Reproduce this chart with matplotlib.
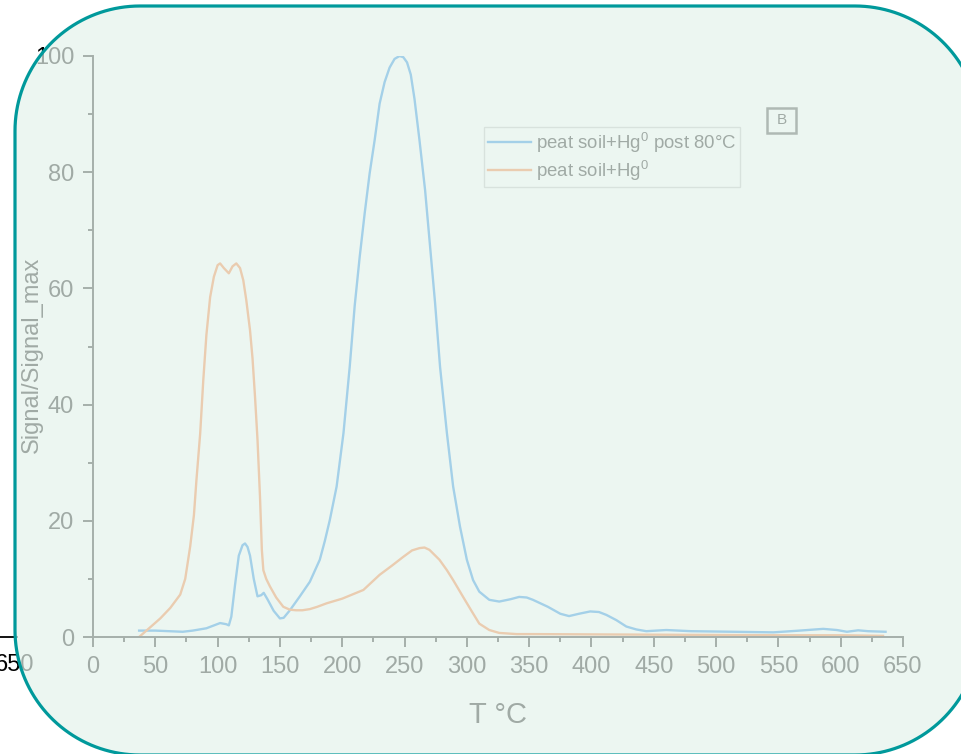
import matplotlib
matplotlib.use("Agg")
import numpy as np
import matplotlib.pyplot as plt
from matplotlib.patches import Polygon, Rectangle
from matplotlib.transforms import IdentityTransform
from matplotlib.ticker import MultipleLocator

plt.rcParams['font.family'] = ['Liberation Sans', 'DejaVu Sans']
plt.rcParams['mathtext.default'] = 'regular'

# peat soil+Hg0 post 80°C (blue)
t_post = [37, 50, 72, 80, 91, 102, 107, 109, 111, 114, 117, 120, 122, 124, 126, 129,
          132, 135, 137, 140, 145, 150, 153, 158, 166, 174, 182, 186, 190, 195.5, 201,
          206, 210, 214, 218, 222, 226, 230, 234, 238, 242, 246, 249, 252, 255, 258, 262, 266.5,
          270.5, 274.5, 278.5, 284, 289, 294.5, 300, 305, 310, 318, 326, 335, 342, 348,
          353, 365, 375, 382, 390, 399, 406, 412, 420, 428, 436, 444, 460, 480, 514,
          546, 567, 586, 597, 605, 614, 622, 636]
s_post = [1.1, 1.1, 0.9, 1.1, 1.5, 2.4, 2.2, 2.0, 3.5, 9.0, 14.0, 15.8, 16.1, 15.5, 14.0, 10.0,
          7.0, 7.2, 7.6, 6.5, 4.5, 3.2, 3.3, 4.6, 7.0, 9.5, 13.3, 16.5, 20.1, 25.9, 35.1,
          46.5, 57.0, 65.4, 72.9, 79.8, 85.5, 91.8, 95.5, 98.0, 99.5, 100.0, 99.8, 98.9, 96.8, 92.6, 85.5, 76.9,
          67.2, 57.5, 46.5, 35.1, 25.9, 19.0, 13.3, 9.8, 7.8, 6.4, 6.1, 6.5, 6.9, 6.8,
          6.4, 5.2, 4.0, 3.6, 4.0, 4.4, 4.3, 3.8, 2.9, 1.8, 1.3, 1.0, 1.2, 1.0, 0.9,
          0.8, 1.1, 1.4, 1.2, 0.9, 1.15, 1.0, 0.9]

# peat soil+Hg0 (orange)
t_raw = [37, 45, 54, 62, 70, 74, 78, 81, 83, 86, 88.5, 91, 94, 97, 100, 102, 105, 109,
         112, 115, 118, 120.6, 123, 126, 128, 130, 132, 134, 135.5, 136.7, 139, 142, 147,
         152.7, 158, 163, 168, 174, 180, 187.5, 200, 217, 230, 240, 249, 256, 262, 266,
         270, 278, 284, 289, 297, 304, 310, 318, 326, 340, 353, 400, 450, 500, 550, 600, 634]
s_raw = [0.0, 1.5, 3.2, 5.0, 7.3, 10.0, 15.6, 21.0, 27.0, 35.0, 44.2, 52.0, 58.5, 62.0, 64.0, 64.3, 63.5, 62.6,
         63.8, 64.3, 63.5, 61.4, 58.0, 52.8, 48.0, 41.4, 34.0, 24.2, 15.0, 11.5, 10.0, 8.7, 6.8,
         5.2, 4.7, 4.6, 4.6, 4.8, 5.2, 5.8, 6.6, 8.1, 10.7, 12.3, 13.8, 14.9, 15.3, 15.4,
         15.0, 13.3, 11.5, 9.8, 6.9, 4.4, 2.3, 1.2, 0.7, 0.5, 0.5, 0.45, 0.4, 0.35, 0.3, 0.3, 0.2]

labels = ['peat soil+Hg$^0$ post 80°C', 'peat soil+Hg$^0$']

fig = plt.figure(figsize=(9.61, 7.54), dpi=100)
ax = fig.add_axes([93/961, 1 - 637/754, 810/961, 581/754])
ax.patch.set_alpha(0)

ax.plot(t_post, s_post, color=(0.05, 0.5, 0.88), lw=1.7, label=labels[0])
ax.plot(t_raw, s_raw, color=(0.97, 0.45, 0.15), lw=1.7, label=labels[1])

ax.set_xlim(0, 650)
ax.set_ylim(0, 100)
ax.xaxis.set_major_locator(MultipleLocator(50))
ax.xaxis.set_minor_locator(MultipleLocator(25))
ax.yaxis.set_major_locator(MultipleLocator(20))
ax.yaxis.set_minor_locator(MultipleLocator(10))
for s in ['top', 'right']:
    ax.spines[s].set_visible(False)
for s in ['left', 'bottom']:
    ax.spines[s].set_linewidth(1.4)
    ax.spines[s].set_color('#111111')
ax.tick_params(which='major', length=7.5, width=1.4, labelsize=17, pad=6, color='#111111')
ax.tick_params(which='minor', length=3.8, width=1.4, color='#111111')
ax.set_xlabel('T °C', fontsize=21, labelpad=17)
ax.set_ylabel('Signal/Signal_max', fontsize=17)
ax.yaxis.set_label_coords(-0.062, 0.485)

leg = ax.legend(loc='upper left', bbox_to_anchor=(0.483, 0.878), borderaxespad=0,
                fontsize=13.4, frameon=True, fancybox=False, handlelength=2.3,
                handletextpad=0.27, borderpad=0.2, labelspacing=0.22)
leg.get_frame().set_edgecolor('#aaaaaa')
leg.get_frame().set_linewidth(1.0)

ax.add_patch(Rectangle((0.8321, 0.8675), 0.0358, 0.043, transform=ax.transAxes,
                       fill=False, ec='#333333', lw=1.8, clip_on=False))
ax.text(0.8500, 0.889, 'B', transform=ax.transAxes, fontsize=11, ha='center', va='center')

# pieces of the neighbouring panel at the left edge
fig.text(15/961, 1 - 665/754, '650', fontsize=17, ha='center', va='center', zorder=1)
fig.add_artist(plt.Line2D([0, 17/961], [1 - 637/754, 1 - 637/754], color='black', lw=1.3,
                          transform=fig.transFigure, zorder=1))

# translucent rounded card on top (pixel coords, circular corners)
x0, x1, y0, y1, r = 15, 980, -1, 748, 125
corners = [((x1 - r, y0 + r), -90, 0), ((x1 - r, y1 - r), 0, 90),
           ((x0 + r, y1 - r), 90, 180), ((x0 + r, y0 + r), 180, 270)]
pts = []
for (cx, cy), a0, a1 in corners:
    a = np.radians(np.linspace(a0, a1, 40))
    pts.append(np.column_stack([cx + r * np.cos(a), cy + r * np.sin(a)]))
card = Polygon(np.vstack(pts), closed=True, transform=IdentityTransform(),
               fc=(0.898, 0.953, 0.925, 0.70), ec='#00999b', lw=2.3, zorder=5)
fig.add_artist(card)

plt.savefig('out.png', dpi=100)
